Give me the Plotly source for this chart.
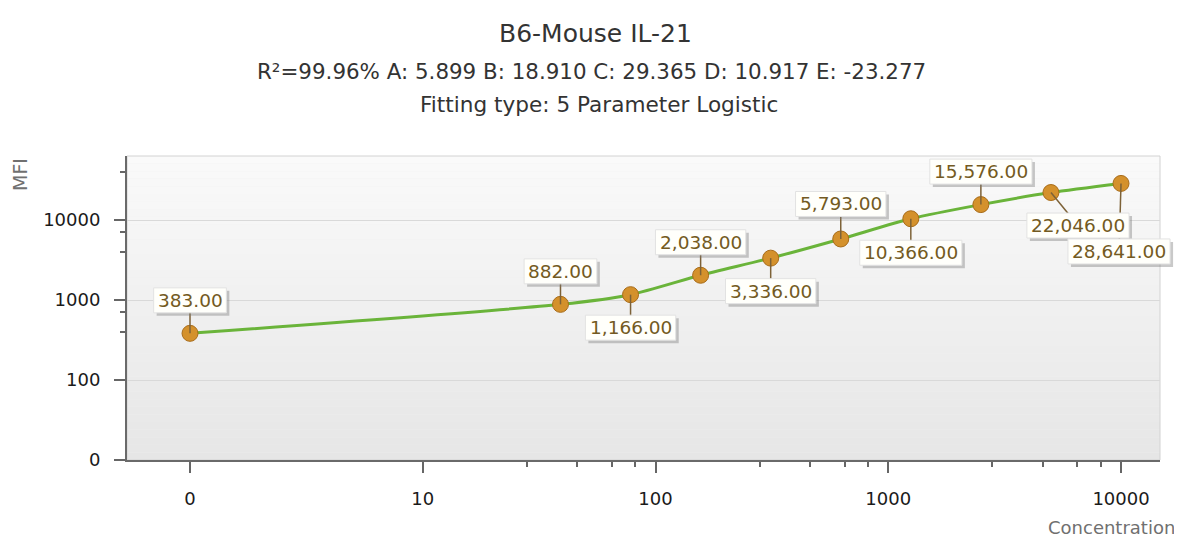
import math
import plotly.graph_objects as go

# ---------------- data ----------------
concentration = [0, 39.0625, 78.125, 156.25, 312.5, 625, 1250, 2500, 5000, 10000]
mfi = [383, 882, 1166, 2038, 3336, 5793, 10366, 15576, 22046, 28641]
point_labels = ["383.00", "882.00", "1,166.00", "2,038.00", "3,336.00",
                "5,793.00", "10,366.00", "15,576.00", "22,046.00", "28,641.00"]
x_tickvals = [1, 10, 100, 1000, 10000]
x_ticktext = ["0", "10", "100", "1000", "10000"]
y_tickvals = [10, 100, 1000, 10000]
y_ticktext = ["0", "100", "1000", "10000"]
x_minor = [28, 46, 65, 82, 280, 460, 650, 820, 2800, 4600, 6500, 8200]
y_minor = [400, 700, 4000, 7000, 40000]

title = "B6-Mouse IL-21"
subtitle = "R²=99.96% A: 5.899 B: 18.910 C: 29.365 D: 10.917 E: -23.277"
fit_text = "Fitting type: 5 Parameter Logistic"

# ---------------- layout helpers ----------------
OFF = 8  # page body margin offset
W, H = 1182 - OFF, 540 - OFF
PL, PT, PR, PB = 127, 156, 1160, 460  # plot area in page pixels
L = PL - OFF
T = PT - OFF
R = W - (PR - OFF)
B = H - (PB - OFF)
PW, PH = PR - PL, PB - PT
XR = [-0.2707, 4.1675]
YR = [1, 4.8]

def px(xp):
    return (xp - PL) / PW

def py(yp):
    return (PB - yp) / PH

def paper_x(v, shift_px=0):
    return (math.log10(v) - XR[0]) / (XR[1] - XR[0]) + shift_px / PW

def paper_y(v, shift_px=0):
    return (math.log10(v) - YR[0]) / (YR[1] - YR[0]) + shift_px / PH

FONT = "DejaVu Sans"
LABEL_SIZE = 18.5
BOX_H = 25
BOX_PAD = 4

# label offsets (pixels, x right / y down) of each label box centre from its point
label_offsets = [(0, -33), (0, -33), (0, 33), (0, -33), (0, 33),
                 (0, -35), (0, 34), (0, -33), (27, 33), (-2, 68)]

CHAR_EM = {",": 0.318, ".": 0.318}

def text_width(s):
    return sum(CHAR_EM.get(ch, 0.636) for ch in s) * LABEL_SIZE

x_plot = [c if c > 0 else 1 for c in concentration]

fig = go.Figure()

fig.add_trace(go.Scatter(
    x=x_plot, y=mfi, mode="lines",
    line=dict(color="#6ab43a", width=3, shape="spline", smoothing=0.7),
    hoverinfo="skip", showlegend=False,
))
fig.add_trace(go.Scatter(
    x=x_plot, y=mfi, mode="markers",
    marker=dict(size=16, color="#d4912c", line=dict(color="#a86c1a", width=1)),
    showlegend=False,
))

shapes = []
# gradient background
n = 40
top_c = (250, 250, 250)
bot_c = (230, 230, 230)
for i in range(n):
    t = i / (n - 1)
    c = tuple(int(round(top_c[k] + (bot_c[k] - top_c[k]) * t)) for k in range(3))
    shapes.append(dict(type="rect", xref="paper", yref="paper",
                       x0=0, x1=1, y0=1 - (i + 1) / n, y1=1 - i / n,
                       fillcolor="rgb(%d,%d,%d)" % c, line=dict(width=0),
                       layer="below"))
# light border top/right
shapes.append(dict(type="rect", xref="paper", yref="paper", x0=0, x1=1, y0=0, y1=1,
                   line=dict(color="#d2d2d2", width=1), fillcolor="rgba(0,0,0,0)",
                   layer="below"))

annotations = []
leaders, shadows, boxes = [], [], []
for xv, yv, txt, (dx, dy) in zip(x_plot, mfi, point_labels, label_offsets):
    bw = text_width(txt) + 2 * BOX_PAD
    cx, cy = dx, -dy  # pixel offsets, y up
    pr = dict(xref="paper", yref="paper", layer="above")
    leaders.append(dict(type="line",
                        x0=paper_x(xv), y0=paper_y(yv),
                        x1=paper_x(xv, cx), y1=paper_y(yv, cy),
                        line=dict(color="#7d6238", width=1.5), **pr))
    shadows.append(dict(type="rect",
                        x0=paper_x(xv, cx - bw / 2 + 3), x1=paper_x(xv, cx + bw / 2 + 3),
                        y0=paper_y(yv, cy - BOX_H / 2 - 3), y1=paper_y(yv, cy + BOX_H / 2 - 3),
                        fillcolor="rgba(120,120,120,0.40)", line=dict(width=0), **pr))
    boxes.append(dict(type="rect",
                      x0=paper_x(xv, cx - bw / 2), x1=paper_x(xv, cx + bw / 2),
                      y0=paper_y(yv, cy - BOX_H / 2), y1=paper_y(yv, cy + BOX_H / 2),
                      fillcolor="#fffffb", line=dict(color="#e2e2e2", width=1), **pr))
    annotations.append(dict(
        x=paper_x(xv, cx), y=paper_y(yv, cy), xref="paper", yref="paper",
        showarrow=False, xanchor="center", yanchor="middle",
        text=txt, font=dict(family=FONT, size=LABEL_SIZE, color="#735a22"),
    ))
shapes += leaders + shadows + boxes

annotations += [
    dict(x=px(595), y=py(33), xref="paper", yref="paper", showarrow=False,
         text=title, font=dict(family=FONT, size=25, color="#333333"),
         xanchor="center", yanchor="middle"),
    dict(x=px(591), y=py(72), xref="paper", yref="paper", showarrow=False,
         text=subtitle, font=dict(family=FONT, size=21.4, color="#333333"),
         xanchor="center", yanchor="middle"),
    dict(x=px(599), y=py(104), xref="paper", yref="paper", showarrow=False,
         text=fit_text, font=dict(family=FONT, size=21.6, color="#333333"),
         xanchor="center", yanchor="middle"),
    dict(x=px(20), y=py(175), xref="paper", yref="paper", showarrow=False,
         text="MFI", textangle=-90, font=dict(family=FONT, size=19, color="#707070"),
         xanchor="center", yanchor="middle"),
    dict(x=px(1111), y=py(527), xref="paper", yref="paper", showarrow=False,
         text="Concentration", font=dict(family=FONT, size=18, color="#707070"),
         xanchor="center", yanchor="middle"),
]

fig.update_layout(
    width=W, height=H,
    margin=dict(l=L, r=R, t=T, b=B, pad=0),
    paper_bgcolor="#ffffff", plot_bgcolor="#f0f0f0",
    shapes=shapes, annotations=annotations,
    showlegend=False,
    font=dict(family=FONT, size=18, color="#222222"),
)

fig.update_xaxes(
    type="log", range=XR,
    tickvals=x_tickvals, ticktext=x_ticktext,
    ticks="outside", ticklen=11, tickwidth=1.5, tickcolor="#666666",
    showline=True, linecolor="#6a6a6a", linewidth=2,
    showgrid=False, zeroline=False,
    ticklabelstandoff=10,
    tickfont=dict(family=FONT, size=18, color="#1a1a1a"),
    minor=dict(tickmode="array", tickvals=x_minor, ticks="outside", ticklen=5,
               tickwidth=1.5, tickcolor="#666666", showgrid=False),
)
fig.update_yaxes(
    type="log", range=YR,
    tickvals=y_tickvals, ticktext=y_ticktext,
    ticks="outside", ticklen=11, tickwidth=1.5, tickcolor="#666666",
    showline=True, linecolor="#6a6a6a", linewidth=2,
    showgrid=True, gridcolor="#d9d9d9", gridwidth=1, zeroline=False,
    ticklabelstandoff=10,
    tickfont=dict(family=FONT, size=18, color="#1a1a1a"),
    minor=dict(tickmode="array", tickvals=y_minor, ticks="outside", ticklen=5,
               tickwidth=1.5, tickcolor="#666666", showgrid=False),
)

fig.write_html("out.html")
